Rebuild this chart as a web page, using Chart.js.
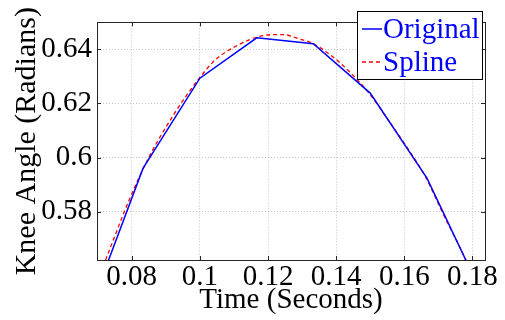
<!DOCTYPE html>
<html>
<head>
<meta charset="utf-8">
<script src="https://cdn.jsdelivr.net/npm/chart.js@4"></script>
<style>
    body { margin: 0; background: #fff; }
    #wrap { width: 505px; height: 320px; }
</style>
</head>
<body>
<div id="wrap"><canvas id="kneeChart" width="505" height="320"></canvas></div>
<script>
// Data
const origTime = [0.0667, 0.0833, 0.1, 0.1167, 0.1333, 0.15, 0.1667, 0.1833];
const origAngle = [0.5404, 0.5960, 0.6293, 0.6442, 0.6420, 0.6238, 0.5923, 0.5483];

const splineTime = [0.0700, 0.0725, 0.0790, 0.0849, 0.0927, 0.0991, 0.1045, 0.1113, 0.1177, 0.1221,
    0.1245, 0.1294, 0.1329, 0.1383, 0.1431, 0.1495, 0.1559, 0.1612, 0.1661, 0.1715, 0.1779, 0.1800];
const splineAngle = [0.5550, 0.5628, 0.5836, 0.5998, 0.6166, 0.6281, 0.6360, 0.6416, 0.6448, 0.6454,
    0.6454, 0.6437, 0.6423, 0.6379, 0.6327, 0.6240, 0.6128, 0.6030, 0.5932, 0.5790, 0.5626, 0.5560];

const xTicks = [0.08, 0.1, 0.12, 0.14, 0.16, 0.18];
const yTicks = [0.58, 0.6, 0.62, 0.64];
const xRange = [0.0698, 0.1837];
const yRange = [0.5622, 0.6499];

const FONT = '"Liberation Serif", "DejaVu Serif", serif';

function toPoints(xs, ys) {
    return xs.map((x, i) => ({ x: x, y: ys[i] }));
}

// MATLAB-like box with inner tick marks, plus the inset legend
const boxPlugin = {
    id: 'matlabBox',
    afterDraw(chart) {
        const { ctx, chartArea: a, scales } = chart;
        const tick = 4;
        ctx.save();
        ctx.strokeStyle = '#262626';
        ctx.lineWidth = 1;
        ctx.beginPath();
        xTicks.forEach(v => {
            const px = Math.round(scales.x.getPixelForValue(v)) + 0.5;
            ctx.moveTo(px, a.bottom); ctx.lineTo(px, a.bottom - tick);
            ctx.moveTo(px, a.top); ctx.lineTo(px, a.top + tick);
        });
        yTicks.forEach(v => {
            const py = Math.round(scales.y.getPixelForValue(v)) + 0.5;
            ctx.moveTo(a.left, py); ctx.lineTo(a.left + tick, py);
            ctx.moveTo(a.right, py); ctx.lineTo(a.right - tick, py);
        });
        ctx.stroke();
        ctx.strokeRect(Math.round(a.left) + 0.5, Math.round(a.top) + 0.5,
            Math.round(a.right - a.left), Math.round(a.bottom - a.top));

        // legend
        const lx = 357, ly = 11, lw = 125, lh = 68;
        ctx.fillStyle = '#fff';
        ctx.fillRect(lx, ly, lw, lh);
        ctx.strokeStyle = '#000';
        ctx.strokeRect(lx + 0.5, ly + 0.5, lw, lh);
        ctx.font = '29px ' + FONT;
        ctx.textBaseline = 'middle';
        chart.data.datasets.forEach((ds, i) => {
            const y = ly + 18 + i * 33;
            ctx.strokeStyle = ds.borderColor;
            ctx.lineWidth = ds.borderWidth;
            ctx.setLineDash(ds.borderDash || []);
            ctx.beginPath();
            ctx.moveTo(lx + 5, y);
            ctx.lineTo(lx + 25, y);
            ctx.stroke();
            ctx.setLineDash([]);
            ctx.fillStyle = '#0000ff';
            ctx.fillText(ds.label, lx + 26, y + 1);
        });
        ctx.restore();
    }
};

const chart = new Chart(document.getElementById('kneeChart'), {
    type: 'line',
    data: {
        datasets: [
            {
                label: 'Original',
                data: toPoints(origTime, origAngle),
                borderColor: '#0000ff',
                borderWidth: 1.5,
                pointRadius: 0,
                tension: 0
            },
            {
                label: 'Spline',
                data: toPoints(splineTime, splineAngle),
                borderColor: '#ff0000',
                borderWidth: 1.3,
                borderDash: [4, 3],
                pointRadius: 0,
                cubicInterpolationMode: 'monotone'
            }
        ]
    },
    options: {
        responsive: false,
        animation: false,
        layout: { padding: { top: 7, right: 20, left: 0, bottom: 0 } },
        plugins: {
            legend: { display: false },
            tooltip: { enabled: false }
        },
        scales: {
            x: {
                type: 'linear',
                min: xRange[0],
                max: xRange[1],
                afterBuildTicks: axis => { axis.ticks = xTicks.map(v => ({ value: v })); },
                afterFit: axis => { axis.height = 60; },
                ticks: {
                    color: '#000',
                    font: { family: FONT, size: 29 },
                    padding: 0,
                    maxRotation: 0,
                    callback: v => String(v)
                },
                grid: { color: '#c4c4c4', lineWidth: 1, drawTicks: false },
                border: { display: false, dash: [1, 2] },
                title: {
                    display: true,
                    text: 'Time (Seconds)',
                    color: '#000',
                    font: { family: FONT, size: 29 },
                    padding: { top: 0, bottom: 2 }
                }
            },
            y: {
                type: 'linear',
                min: yRange[0],
                max: yRange[1],
                afterBuildTicks: axis => { axis.ticks = yTicks.map(v => ({ value: v })); },
                afterFit: axis => { axis.width = 97; },
                ticks: {
                    color: '#000',
                    font: { family: FONT, size: 29 },
                    padding: 5,
                    callback: v => String(v)
                },
                grid: { color: '#c4c4c4', lineWidth: 1, drawTicks: false },
                border: { display: false, dash: [1, 2] },
                title: {
                    display: true,
                    text: 'Knee Angle (Radians)',
                    color: '#000',
                    font: { family: FONT, size: 30 },
                    padding: { top: 9, bottom: 0 }
                }
            }
        }
    },
    plugins: [boxPlugin]
});
</script>
</body>
</html>
